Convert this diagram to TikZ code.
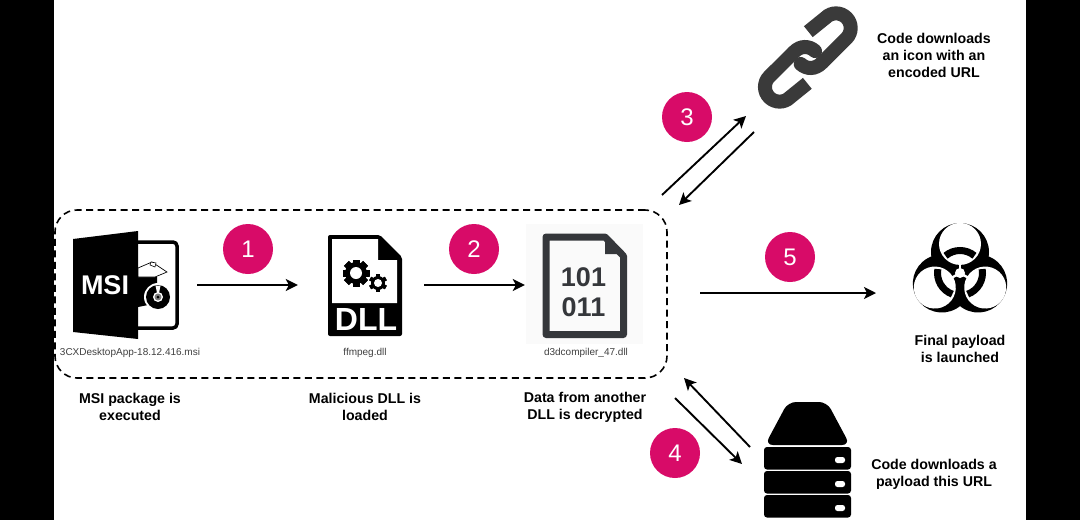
\documentclass[tikz,border=0pt]{standalone}
\usepackage{fontspec}
\setmainfont{Liberation Sans}
\usetikzlibrary{arrows.meta, positioning}

\definecolor{badgepink}{HTML}{D80B68}
\definecolor{chaingray}{HTML}{3A3A3A}
\definecolor{filegray}{HTML}{35373B}

\begin{document}
\begin{tikzpicture}[
    x=1pt, y=-1pt,
    badge/.style={circle, fill=badgepink, text=white, minimum size=50pt, inner sep=0pt, font=\fontsize{24}{24}\selectfont},
    caption/.style={align=center, font=\bfseries\fontsize{14.2}{17}\selectfont, text=black, inner sep=0pt},
    filename/.style={font=\fontsize{10}{11}\selectfont, text=black!75, inner sep=0pt},
    iconbox/.style={inner sep=0pt, minimum height=#1},
    arrow/.style={-{Stealth[length=12pt,width=12pt,inset=3pt]}, line width=1.9pt, draw=black}
]
    % page with the two side bars
    \fill[black] (0,0) rectangle (1080,520);
    \fill[white] (54,0) rectangle (1026,520);
    \useasboundingbox (0,0) rectangle (1080,520);

    % MSI icon
    \draw[line width=3.5pt, rounded corners=4pt] (130,242) -- (177,242) -- (177,328) -- (130,328);
    \fill (73,239) -- (138,231) -- (138,339) -- (73,332) -- cycle;
    \fill (138,277) -- (157,277) -- (157,290) -- (148,305) -- (138,307) -- cycle;
    \draw[line width=0.7pt, fill=white] (138,268) -- (152,262) -- (167,272) -- (155,277) -- (138,277) -- cycle;
    \draw[line width=0.6pt, fill=white] (151,262) -- (156,263) -- (155,267) -- (150,265) -- cycle;
    \fill[white] (158,297) circle (14);
    \fill (158,297) circle (12);
    \fill[white] (155.5,285.5) -- (160.5,285.5) -- (159,293) -- (157,293) -- cycle;
    \fill[white] (158,297) circle (5);
    \fill[black!50] (158,297) circle (3.5);
    \fill (158,297) circle (1.5);
    \node[text=white, font=\bfseries\fontsize{27}{27}\selectfont, inner sep=0pt] (msitext) at (105,285) {MSI};

    % DLL icon
    \fill[rounded corners=2pt] (328,235) -- (380,235) -- (402,257) -- (402,336) -- (328,336) -- cycle;
    \fill[white] (332,239) -- (378,239) -- (378,260) -- (397,260) -- (397,303) -- (332,303) -- cycle;
    \foreach \a in {0,45,...,315} {
        \fill[rotate around={\a:(356,273)}] (352.5,259.5) rectangle (359.5,286.5);
    }
    \fill (356,273) circle (11);
    \fill[white] (356,273) circle (6);
    \fill[white] (378,283) circle (10.5);
    \foreach \a in {0,60,...,300} {
        \fill[rotate around={\a:(378,283)}] (376,274) rectangle (380,292);
    }
    \fill (378,283) circle (7);
    \fill[white] (378,283) circle (4);
    \node[text=white, font=\bfseries\fontsize{32}{32}\selectfont, inner sep=0pt] (dlltext) at (366,319) {DLL};

    % binary file icon
    \fill[black!2] (526,224) rectangle (643,344);
    \draw[draw=filegray, line width=7pt, line join=round] (546,237) -- (605,237) -- (623.5,256) -- (623.5,334.5) -- (546,334.5) -- cycle;
    \fill[filegray] (605,237) -- (623.5,254) -- (605,254) -- cycle;
    \node[text=filegray, align=center, font=\bfseries\fontsize{27}{30}\selectfont, inner sep=0pt] (bits) at (583.5,292.5) {101\\011};

    % link icon
    \begin{scope}[shift={(750,0)}, scale=1/3, draw=chaingray, line width=14pt]
        \draw[line cap=butt] (175,95) -- (227,53) arc[start angle=225, end angle=405, radius=44] -- (215,189);
        \draw[line cap=round] (215,189) .. controls (195,209) and (170,208) .. (152,192);
        \draw[line cap=butt] (172,250) -- (120,292) arc[start angle=45, end angle=225, radius=44] -- (132,156);
        \draw[line cap=round] (132,156) .. controls (152,136) and (177,137) .. (195,153);
    \end{scope}

    % biohazard icon
    \begin{scope}[shift={(960,273)}]
        \foreach \a in {0,120,240} {
            \fill[rotate=\a] (0,-21) circle (29);
        }
        \foreach \a in {0,120,240} {
            \fill[rotate=\a, white] (0,-29.1) circle (21);
            \draw[rotate=\a, line width=7pt] (-50:22.5) arc[start angle=-50, end angle=-130, radius=22.5];
            \fill[rotate=\a, white] (-1.2,-14) rectangle (1.2,0);
        }
        \fill[white] (0,0) circle (5);
    \end{scope}

    % server icon
    \fill[rounded corners=8pt] (765,445) -- (788,402) -- (827,402) -- (850,445) -- cycle;
    \foreach \ytop in {447,471,495} {
        \fill[rounded corners=3pt] (764,\ytop) rectangle (851,\ytop+22.5);
        \fill[white, rounded corners=2.5pt] (835,\ytop+10) rectangle (845,\ytop+16);
    }

    % anchors for the connectors
    \node[iconbox=100pt, minimum width=106pt] (msi) at (125,285) {};
    \node[iconbox=100pt, minimum width=74pt] (dll) at (365,285) {};
    \node[iconbox=100pt, minimum width=84pt] (bin) at (584,285) {};
    \node[draw, dash pattern=on 7pt off 4.5pt, line width=1.6pt, rounded corners=22pt, minimum width=612pt, minimum height=168pt, inner sep=0pt] (group) at (361,294) {};
    \coordinate (linkup) at (746,116);
    \coordinate (linkdown) at (754,132);
    \coordinate (groupup) at (662,195);
    \coordinate (groupdown) at (679,205);
    \coordinate (serverin) at (742,464);
    \coordinate (serverout) at (750,447);
    \coordinate (groupout) at (675,398);
    \coordinate (groupin) at (684,378);
    \coordinate (payloadfrom) at (700,293);
    \coordinate (payloadto) at (876,293);

    % badges
    \node[badge] (one) at (248,249) {1};
    \node[badge] (two) at (474,249) {2};
    \node[badge] (three) at (687,117) {3};
    \node[badge] (four) at (675,453) {4};
    \node[badge] (five) at (790,257) {5};

    % file names and captions
    \node[filename] (msiname) at (130,353) {3CXDesktopApp-18.12.416.msi};
    \node[filename] (dllname) at (365,353) {ffmpeg.dll};
    \node[filename] (binname) at (586,353) {d3dcompiler\_47.dll};
    \node[caption] (msicap) at (130,407) {MSI package is\\executed};
    \node[caption] (dllcap) at (365,407) {Malicious DLL is\\loaded};
    \node[caption] (bincap) at (585,407) {Data from another\\DLL is decrypted};
    \node[caption] (linkcap) at (934,55) {Code downloads\\an icon with an\\encoded URL};
    \node[caption] (finalcap) at (960,349) {Final payload\\is launched};
    \node[caption] (servercap) at (934,474) {Code downloads a\\payload this URL};

    % connectors
    \draw[arrow, shorten <=19pt, shorten >=30pt] (msi) -- (dll);
    \draw[arrow, shorten <=22pt, shorten >=17pt] (dll) -- (bin);
    \draw[arrow] (groupup) -- (linkup);
    \draw[arrow] (linkdown) -- (groupdown);
    \draw[arrow] (groupout) -- (serverin);
    \draw[arrow] (serverout) -- (groupin);
    \draw[arrow] (payloadfrom) -- (payloadto);
\end{tikzpicture}
\end{document}
